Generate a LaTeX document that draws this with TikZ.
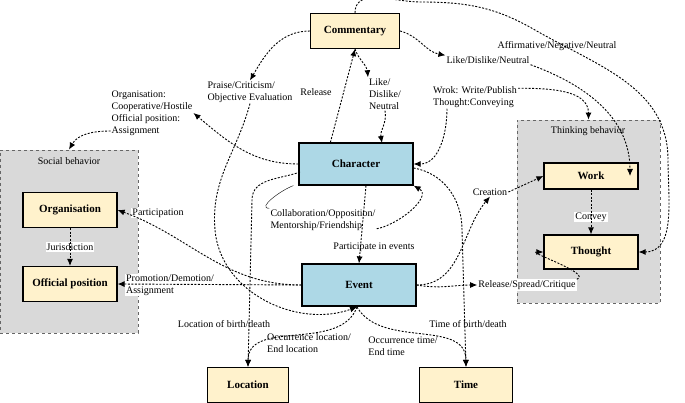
\documentclass[tikz,border=0pt]{standalone}
\usepackage{fontspec}
\setmainfont{Liberation Serif}
\usepackage{tikz}
\usetikzlibrary{arrows.meta}
\definecolor{boxyellow}{RGB}{255,242,204}
\definecolor{boxblue}{RGB}{173,216,230}
\definecolor{groupgray}{RGB}{217,217,217}
\tikzset{
  entity/.style = {draw, line width = 1.2pt, fill = boxyellow, font = \fontsize{11}{13}\selectfont\bfseries, minimum height = 35pt},
  core/.style = {entity, fill = boxblue, minimum height = 42pt, minimum width = 114pt},
  group/.style = {draw = gray!80!black, dashed, line width = 0.8pt, fill = groupgray},
  lab/.style = {fill = white, inner sep = 1pt, font = \fontsize{10}{12}\selectfont, align = left},
  rel/.style = {-{Latex[length = 7pt, width = 6pt]}, line width = 0.9pt, dash pattern = on 2pt off 1.5pt}
}
\begin{document}
\begin{tikzpicture}[x = 1pt, y = -1pt]
\useasboundingbox (0, 0) rectangle (685, 403) ;
% groups
\node(social) at (69, 241.5) [group, minimum width = 138pt, minimum height = 183pt] {} ; 
\node at (69, 161) [font = \fontsize{10}{12}\selectfont] {Social behavior} ; 
\node(thinking) at (588.5, 211.5) [group, minimum width = 143pt, minimum height = 183pt] {} ; 
\node at (588, 131) [font = \fontsize{10}{12}\selectfont] {Thinking behavior} ; 
% boxes
\node(commentary) at (355, 31) [entity, minimum width = 89pt] {Commentary} ; 
\node(character) at (356, 164) [core] {Character} ; 
\node(event) at (359, 285) [core] {Event} ; 
\node(organisation) at (70, 210) [entity, minimum width = 94pt] {Organisation} ; 
\node(position) at (70, 284) [entity, minimum width = 94pt] {Official position} ; 
\node(location) at (248, 385) [entity, minimum width = 81pt] {Location} ; 
\node(time) at (466, 385) [entity, minimum width = 93pt] {Time} ; 
\node(work) at (591, 176) [entity, minimum width = 94pt, minimum height = 26pt] {Work} ; 
\node(thought) at (591, 252) [entity, minimum width = 94pt, minimum height = 34pt] {Thought} ; 
% labels
\node(orglab) at (152, 113) [lab] {Organisation:\\Cooperative/Hostile\\Official position:\\Assignment} ; 
\node(praise) at (250, 92) [lab] {Praise/Criticism/\\Objective Evaluation} ; 
\node(release) at (316, 92) [lab] {Release} ; 
\node(likelab) at (385, 94) [lab] {Like/\\Dislike/\\Neutral} ; 
\node(affirm) at (557, 46) [lab] {Affirmative/Negative/Neutral} ; 
\node(likework) at (488, 60) [lab] {Like/Dislike/Neutral} ; 
\node(wrok) at (475, 97) [lab] {Wrok: Write/Publish\\Thought:Conveying} ; 
\node(creation) at (490, 192) [lab] {Creation} ; 
\node(convey) at (591, 217) [lab] {Convey} ; 
\node(spread) at (527, 285) [lab] {Release/Spread/Critique} ; 
\node(participation) at (158, 213) [lab] {Participation} ; 
\node(collab) at (323, 220) [lab] {Collaboration/Opposition/\\Mentorship/Friendship} ; 
\node(partevent) at (374, 247) [lab] {Participate in events} ; 
\node(jurisdiction) at (70, 247) [lab] {Jurisdiction} ; 
\node(promotion) at (170, 285) [lab] {Promotion/Demotion/\\Assignment} ; 
\node(birthloc) at (224, 324) [lab] {Location of birth/death} ; 
\node(occloc) at (309, 343) [lab] {Occurrence location/\\End location} ; 
\node(occtime) at (403, 346) [lab] {Occurrence time/\\End time} ; 
\node(birthtime) at (468, 324) [lab] {Time of birth/death} ; 
\coordinate(charsw) at (300, 172) ; 
\coordinate(evbot) at (357, 307) ; 
% connectors
\begin{scope}[on background layer/.style = {}]
\draw[rel] (character.north west) ++(32, 0) -- (commentary.south) ; 
\draw[rel] (commentary.south) to [out = -70, in = 95] (likelab.north west) ; 
\draw[rel] (likelab.south) to [out = -80, in = 100] (382, 143) ; 
\draw[rel] (commentary.west) to [out = 180, in = 60] (praise.north) ; 
\draw[rel] (praise.south) to [out = -105, in = 95] (215, 230) to [out = -85, in = 200] (evbot) ; 
\draw[rel] (character.west) to [out = 180, in = -40] (orglab.east) ; 
\draw[rel] (orglab.west) ++(0, 18) to [out = 180, in = 60] (social.north) ; 
\draw[rel] (commentary.north) to [out = 90, in = 180] (420, 2) to [out = 0, in = 150] (535, 30) to [out = -30, in = 90] (668, 160) to [out = -90, in = 0] (thought.east) ; 
\draw[rel] (commentary.east) to [out = -15, in = 170] (likework.north west) ; 
\draw[rel] (likework.south east) to [out = -20, in = 90] (630, 176) ; 
\draw[rel] (wrok.north east) ++(0, 3) to [out = 0, in = 90] (thinking.north) ; 
\draw[rel] (wrok.south west) ++(15, 0) to [out = -90, in = 0] (character.east) ; 
\draw[rel] (charsw) to [out = 200, in = 90] (252, 200) -- (location.north) ; 
\draw[rel] (character.east) ++(0, 4) to [out = -10, in = 90] (462, 230) -- (time.north) ; 
\draw (character.south west) ++(-5, 0) to [out = 200, in = 180] (collab.north west) ; 
\draw[rel] (collab.south east) ++(0, -3) to [out = 10, in = -30] (character.south east) ; 
\draw[rel] (character.south) ++(10, 0) -- (event.north) ; 
\draw[rel] (event.west) to [out = 180, in = -20] (organisation.east) ; 
\draw[rel] (event.west) -- (position.east) ; 
\draw[rel] (event.east) to [out = 0, in = 230] (creation.south) ; 
\draw[rel] (creation.east) -- (work.west) ; 
\draw[rel] (event.east) to [out = -10, in = 180] (spread.west) ; 
\draw[rel] (spread.north east) to [out = 20, in = 180] (thought.west) ; 
\draw[rel] (work.south) -- (thought.north) ; 
\draw[rel] (organisation.south) -- (position.north) ; 
\draw[rel] (evbot) to [out = -110, in = 90] (location.north) ; 
\draw[rel] (evbot) to [out = -60, in = 90] (time.north) ; 
\end{scope}
\end{tikzpicture}
\end{document}
